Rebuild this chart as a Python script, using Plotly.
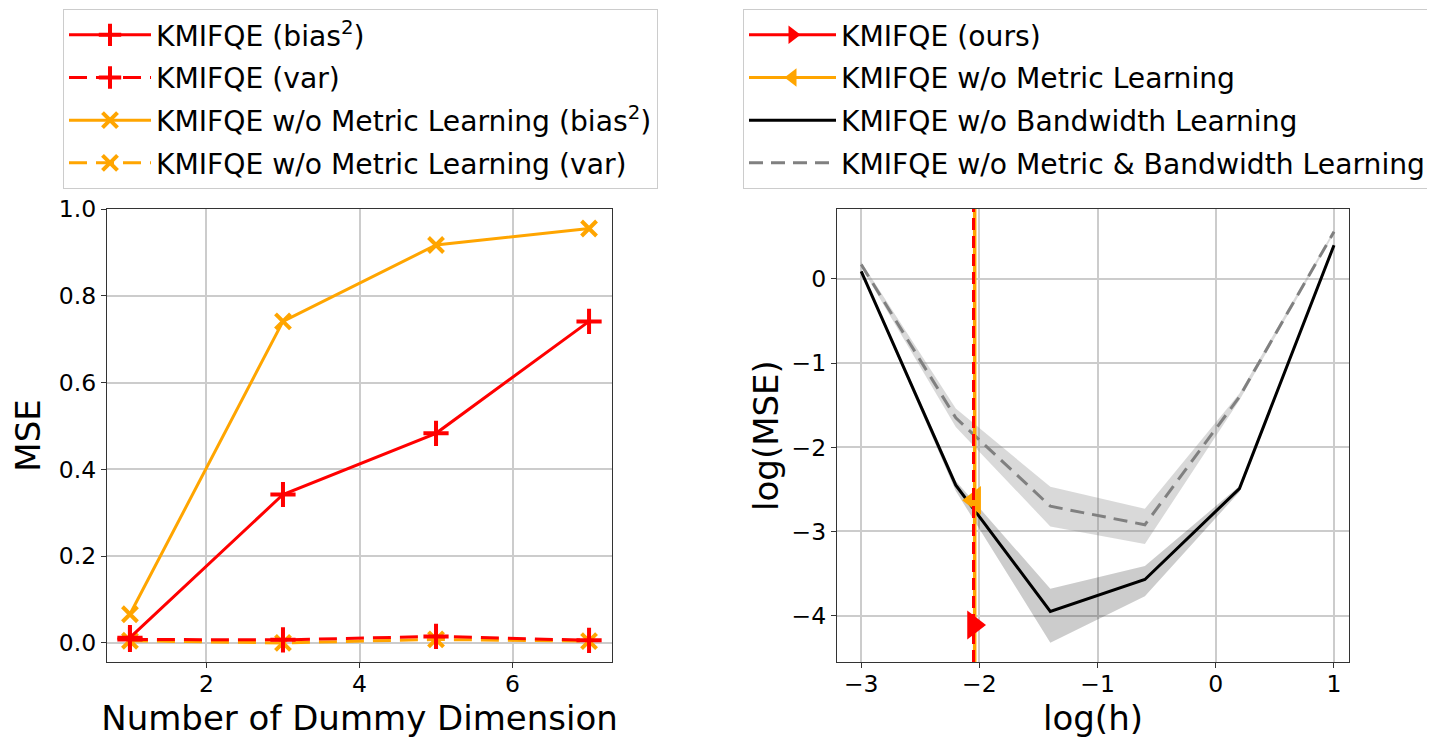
import plotly.graph_objects as go

# ---------------- Data: left panel ----------------
dims = [1, 3, 5, 7]
kmifqe_bias2 = [0.012, 0.342, 0.483, 0.741]
kmifqe_var = [0.008, 0.007, 0.015, 0.006]
wo_metric_bias2 = [0.066, 0.741, 0.917, 0.955]
wo_metric_var = [0.005, 0.000, 0.008, 0.004]

# ---------------- Data: right panel ----------------
log_h = [-3.0, -2.2, -1.4, -0.6, 0.2, 1.0]
wo_bw_mean = [0.09, -2.45, -3.95, -3.57, -2.49, 0.40]
wo_bw_upper = [0.11, -2.40, -3.68, -3.41, -2.46, 0.42]
wo_bw_lower = [0.07, -2.52, -4.32, -3.77, -2.53, 0.38]
wo_both_mean = [0.17, -1.65, -2.70, -2.92, -1.40, 0.56]
wo_both_upper = [0.20, -1.54, -2.47, -2.73, -1.36, 0.58]
wo_both_lower = [0.14, -1.76, -2.94, -3.15, -1.44, 0.54]
ours_logh = -2.05
ours_logmse = -4.11
wo_metric_logh = -2.04
wo_metric_logmse = -2.63

left_xticks = [2, 4, 6]
left_yticks = [0.0, 0.2, 0.4, 0.6, 0.8, 1.0]
right_xticks = [-3, -2, -1, 0, 1]
right_yticks = [-4, -3, -2, -1, 0]

RED = "#ff0000"
ORANGE = "#ffa500"
FONT = "DejaVu Sans"

fig = go.Figure()

# ---------- Left panel ----------
fig.add_trace(go.Scatter(
    x=dims, y=wo_metric_var, mode="lines+markers", name="KMIFQE w/o Metric Learning (var)",
    line=dict(color=ORANGE, width=3, dash="18px,9px"),
    marker=dict(symbol="x-thin", size=15, line=dict(color=ORANGE, width=4)),
    legend="legend", legendgroup="l4", legendrank=4, xaxis="x", yaxis="y"))
fig.add_trace(go.Scatter(
    x=dims, y=wo_metric_bias2, mode="lines+markers", name="KMIFQE w/o Metric Learning (bias<sup>2</sup>)",
    line=dict(color=ORANGE, width=3),
    marker=dict(symbol="x-thin", size=15, line=dict(color=ORANGE, width=4)),
    legend="legend", legendgroup="l3", legendrank=3, xaxis="x", yaxis="y"))
fig.add_trace(go.Scatter(
    x=dims, y=kmifqe_bias2, mode="lines+markers", name="KMIFQE (bias<sup>2</sup>)",
    line=dict(color=RED, width=3),
    marker=dict(symbol="cross-thin", size=18, line=dict(color=RED, width=4)),
    legend="legend", legendgroup="l1", legendrank=1, xaxis="x", yaxis="y"))
fig.add_trace(go.Scatter(
    x=dims, y=kmifqe_var, mode="lines+markers", name="KMIFQE (var)",
    line=dict(color=RED, width=3, dash="18px,9px"),
    marker=dict(symbol="cross-thin", size=18, line=dict(color=RED, width=4)),
    legend="legend", legendgroup="l2", legendrank=2, xaxis="x", yaxis="y"))

# ---------- Right panel ----------
fig.add_trace(go.Scatter(
    x=log_h + log_h[::-1], y=wo_both_upper + wo_both_lower[::-1], fill="toself",
    fillcolor="rgba(128,128,128,0.3)", line=dict(width=0), mode="lines",
    showlegend=False, hoverinfo="skip", xaxis="x2", yaxis="y2"))
fig.add_trace(go.Scatter(
    x=log_h + log_h[::-1], y=wo_bw_upper + wo_bw_lower[::-1], fill="toself",
    fillcolor="rgba(0,0,0,0.2)", line=dict(width=0), mode="lines",
    showlegend=False, hoverinfo="skip", xaxis="x2", yaxis="y2"))
fig.add_trace(go.Scatter(
    x=log_h, y=wo_both_mean, mode="lines", name="KMIFQE w/o Metric &amp; Bandwidth Learning",
    line=dict(color="#808080", width=3, dash="14px,8px"),
    legend="legend2", legendgroup="r4", legendrank=4, xaxis="x2", yaxis="y2"))
fig.add_trace(go.Scatter(
    x=log_h, y=wo_bw_mean, mode="lines", name="KMIFQE w/o Bandwidth Learning",
    line=dict(color="black", width=3),
    legend="legend2", legendgroup="r3", legendrank=3, xaxis="x2", yaxis="y2"))

# vertical lines spanning the panel
y2_range = [-4.55, 0.83]
fig.add_trace(go.Scatter(
    x=[wo_metric_logh, wo_metric_logh], y=y2_range, mode="lines",
    line=dict(color=ORANGE, width=3.5), showlegend=False, hoverinfo="skip",
    xaxis="x2", yaxis="y2"))
fig.add_trace(go.Scatter(
    x=[wo_metric_logh], y=[wo_metric_logmse], mode="lines+markers",
    name="KMIFQE w/o Metric Learning",
    line=dict(color=ORANGE, width=3),
    marker=dict(symbol="triangle-left", size=25, color=ORANGE),
    legend="legend2", legendgroup="r2", legendrank=2, xaxis="x2", yaxis="y2"))
fig.add_trace(go.Scatter(
    x=[ours_logh, ours_logh], y=y2_range, mode="lines",
    line=dict(color=RED, width=3, dash="12px,6px"), showlegend=False, hoverinfo="skip",
    xaxis="x2", yaxis="y2"))
fig.add_trace(go.Scatter(
    x=[ours_logh], y=[ours_logmse], mode="lines+markers",
    name="KMIFQE (ours)",
    line=dict(color=RED, width=3),
    marker=dict(symbol="triangle-right", size=25, color=RED),
    legend="legend2", legendgroup="r1", legendrank=1, xaxis="x2", yaxis="y2"))

W, H = 1435, 738
OFF = 8  # page body margin compensation
ml, mr, mt, mb = 107, 86, 209, 76
pw = W - ml - mr
ph = H - mt - mb

axis_common = dict(
    showline=True, mirror=True, linecolor="#333333", linewidth=1.3,
    ticks="outside", ticklen=5, tickcolor="#333333", tickwidth=1.2,
    showgrid=True, gridcolor="#cccccc", gridwidth=1.5, zeroline=False,
    tickfont=dict(family=FONT, size=23.5, color="black"),
)

legend_common = dict(
    xanchor="left", yanchor="top",
    bgcolor="white", bordercolor="#cccccc", borderwidth=1,
    font=dict(family=FONT, size=28.2, color="black"),
    tracegroupgap=3, traceorder="grouped",
)

# legend top flush with the top of the figure
legend_top = 1 + (mt - OFF - 1) / ph

fig.update_layout(
    width=W, height=H,
    margin=dict(l=ml - OFF, r=mr + OFF, t=mt - OFF, b=mb + OFF, autoexpand=False),
    paper_bgcolor="white", plot_bgcolor="white",
    font=dict(family=FONT, color="black"),
    xaxis=dict(domain=[0, (612 - ml) / pw], range=[0.7, 7.3], tickvals=left_xticks,
               ticklabelstandoff=-4,
               title=dict(text="Number of Dummy Dimension", font=dict(size=34), standoff=0),
               **axis_common),
    yaxis=dict(domain=[0, 1], range=[-0.044, 1.0], tickvals=left_yticks, tickformat=".1f",
               title=dict(text="MSE", font=dict(size=34), standoff=10),
               **axis_common),
    xaxis2=dict(domain=[(837 - ml) / pw, 1], range=[-3.205, 1.127], tickvals=right_xticks,
                anchor="y2", ticklabelstandoff=-4,
                title=dict(text="log(h)", font=dict(size=34), standoff=0),
                **axis_common),
    yaxis2=dict(domain=[0, 1], range=y2_range, tickvals=right_yticks, anchor="x2",
                title=dict(text="log(MSE)", font=dict(size=34), standoff=2),
                **axis_common),
    legend=dict(x=(63 - ml) / pw, y=legend_top, itemwidth=82, **legend_common),
    legend2=dict(x=(743 - ml) / pw, y=legend_top, itemwidth=87, **legend_common),
)

fig.write_html("out.html")
